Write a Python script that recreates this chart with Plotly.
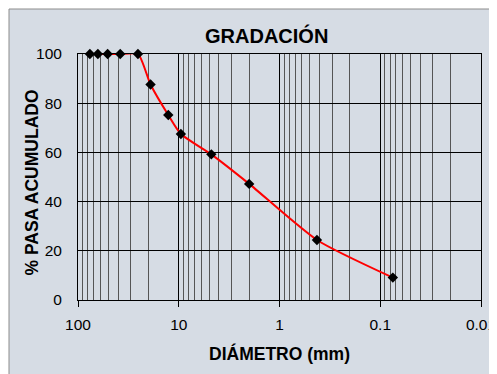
import plotly.graph_objects as go

# Data: sieve openings (mm) and cumulative % passing
diametro_mm = [76.2, 63.5, 50.8, 38.1, 25.4, 19.05, 12.7, 9.525, 4.75, 2.0, 0.425, 0.075]
pasa_acum = [100, 100, 100, 100, 100, 87.6, 75.2, 67.5, 59.2, 47.2, 24.4, 9.1]

major_x = [100, 10, 1, 0.1, 0.01]
major_x_labels = ["100", "10", "1", "0.1", "0.01"]
minor_x = [m * d for d in [10, 1, 0.1, 0.01] for m in range(2, 10)]
y_ticks = [0, 20, 40, 60, 80, 100]

FONT = "Liberation Sans, Arial, sans-serif"
BG = "#D6DCE4"

fig = go.Figure()
fig.add_trace(go.Scatter(
    x=diametro_mm, y=pasa_acum, mode="lines+markers",
    line=dict(color="#FF0000", width=2, shape="spline", smoothing=0.6),
    marker=dict(symbol="diamond", size=8, color="#000000"),
    showlegend=False, cliponaxis=False,
))

fig.update_layout(
    width=489, height=366,
    margin=dict(l=70, r=16, t=46, b=74, autoexpand=False),
    paper_bgcolor="#FFFFFF",
    plot_bgcolor="rgba(0,0,0,0)",
    font=dict(family=FONT, size=15.5, color="#000000"),
    xaxis=dict(
        type="log", range=[2, -2], autorange=False, automargin=False,
        tickmode="array", tickvals=major_x, ticktext=major_x_labels,
        showgrid=True, gridcolor="#000000", gridwidth=1,
        ticks="outside", ticklen=6, tickcolor="#000000", tickwidth=1,
        minor=dict(tickmode="array", tickvals=minor_x, showgrid=True,
                   gridcolor="#555555", gridwidth=1, ticks=""),
        showline=True, linecolor="#000000", linewidth=1, mirror=True,
        zeroline=False, ticklabelstandoff=4, ticklabeloverflow="allow",
    ),
    yaxis=dict(
        range=[0, 100], autorange=False, automargin=False,
        tickmode="array", tickvals=y_ticks,
        showgrid=True, gridcolor="#000000", gridwidth=1,
        ticks="", showline=True, linecolor="#000000", linewidth=1, mirror=True,
        zeroline=False, ticklabelstandoff=12,
    ),
    shapes=[dict(
        type="rect", xref="paper", yref="paper",
        x0=(9 - 78) / 403, x1=1.2, y0=-0.5, y1=(300 - 9) / 246,
        fillcolor=BG, line=dict(color="#8C8C8C", width=1), layer="below",
    )],
    annotations=[
        dict(text="<b>GRADACIÓN</b>", xref="paper", yref="paper",
             x=(266.5 - 78) / 403, y=(300 - 35) / 246, xanchor="center", yanchor="middle",
             showarrow=False, font=dict(family=FONT, size=20, color="#000000")),
        dict(text="<b>% PASA ACUMULADO</b>", xref="paper", yref="paper",
             x=(31.5 - 78) / 403, y=(300 - 183) / 246, xanchor="center", yanchor="middle",
             textangle=-90, showarrow=False, font=dict(family=FONT, size=17.5, color="#000000")),
        dict(text="<b>DIÁMETRO (mm)</b>", xref="paper", yref="paper",
             x=0.5, y=(300 - 353) / 246, xanchor="center", yanchor="middle",
             showarrow=False, font=dict(family=FONT, size=17.5, color="#000000")),
    ],
)

fig.write_html("out.html", post_script="document.body.style.overflow='hidden';")
